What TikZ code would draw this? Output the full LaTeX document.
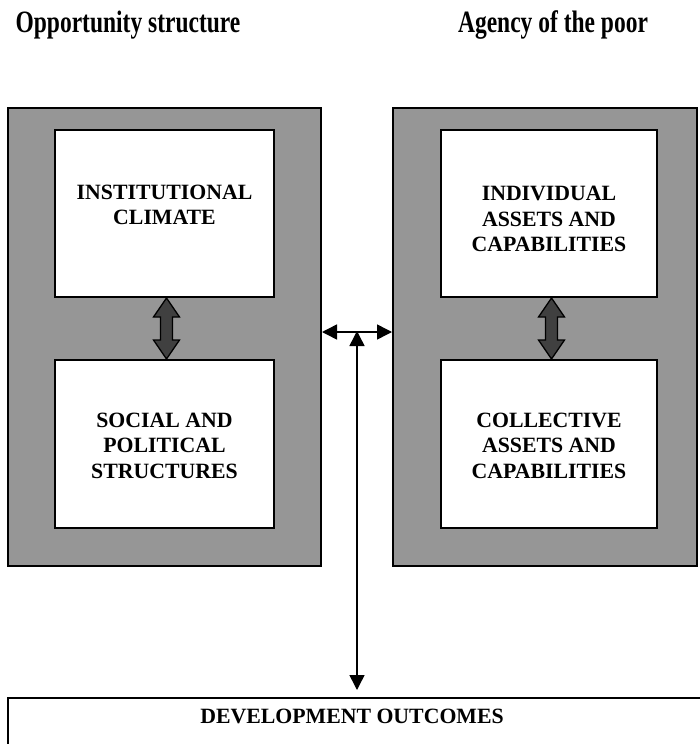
\documentclass[tikz,border=0pt]{standalone}
\usepackage{fontspec}
\setmainfont{Liberation Serif}
\usetikzlibrary{arrows.meta}
\definecolor{panelgrey}{HTML}{969696}
\definecolor{arrowdark}{HTML}{404040}
\tikzset{
  panel/.style={draw=black, line width=2pt, fill=panelgrey, rectangle, inner sep=0pt},
  whitebox/.style={draw=black, line width=2pt, fill=white, rectangle, inner sep=0pt},
  boxtext/.style={font=\fontsize{21.8}{25.5}\selectfont\bfseries, align=center, inner sep=0pt},
  titletext/.style={font=\fontsize{23.5}{28}\selectfont\bfseries, inner sep=0pt},
  thinarrow/.style={line width=1.5pt, {Triangle[length=15pt,width=15pt]}-{Triangle[length=15pt,width=15pt]}},
  fatarrow/.style={draw=black, line width=1.3pt, fill=arrowdark, line join=miter}
}
\begin{document}
\begin{tikzpicture}[x=1pt,y=-1pt]
\useasboundingbox (0,0) rectangle (699,744);
% titles
\node[titletext, anchor=base] (t1) at (128,32) {\scalebox{1}[1.32]{Opportunity structure}};
\node[titletext, anchor=base] (t2) at (553,32) {\scalebox{1}[1.32]{Agency of the poor}};
% panels
\node[panel, minimum width=313pt, minimum height=458pt] (lp) at (164.5,337) {};
\node[panel, minimum width=304pt, minimum height=458pt] (rp) at (545,337) {};
% inner boxes
\node[whitebox, minimum width=219pt, minimum height=167pt] (ic) at (164.5,213.5) {};
\node[whitebox, minimum width=219pt, minimum height=168pt] (sp) at (164.5,444) {};
\node[whitebox, minimum width=216pt, minimum height=167pt] (ia) at (549,213.5) {};
\node[whitebox, minimum width=216pt, minimum height=168pt] (ca) at (549,444) {};
% texts
\node[boxtext] (ict) at (164.5,205) {INSTITUTIONAL\\CLIMATE};
\node[boxtext] (iat) at (549,219) {INDIVIDUAL\\ASSETS AND\\CAPABILITIES};
\node[boxtext] (spt) at (164.5,445.5) {SOCIAL AND\\POLITICAL\\STRUCTURES};
\node[boxtext] (cat) at (549,445.5) {COLLECTIVE\\ASSETS AND\\CAPABILITIES};
% bottom box
\node[draw=black, line width=2pt, fill=white, rectangle, minimum width=720pt, minimum height=80pt, anchor=north west, inner sep=0pt] (do) at (7,697) {};
\node[boxtext] (dot) at (352,716) {DEVELOPMENT OUTCOMES};
% fat double arrows
\foreach \cx in {166.5, 551.5}{
  \draw[fatarrow] (\cx,298) -- (\cx+13,317) -- (\cx+6,317) -- (\cx+6,340) -- (\cx+13,340) -- (\cx,359)
     -- (\cx-13,340) -- (\cx-6,340) -- (\cx-6,317) -- (\cx-13,317) -- cycle;
}
% thin arrows
\coordinate (hm) at (357,332);
\draw[thinarrow] (lp.east |- hm) -- (rp.west |- hm);
\draw[thinarrow] ([yshift=1pt]hm) -- (357,690) coordinate (dm);
\end{tikzpicture}
\end{document}
